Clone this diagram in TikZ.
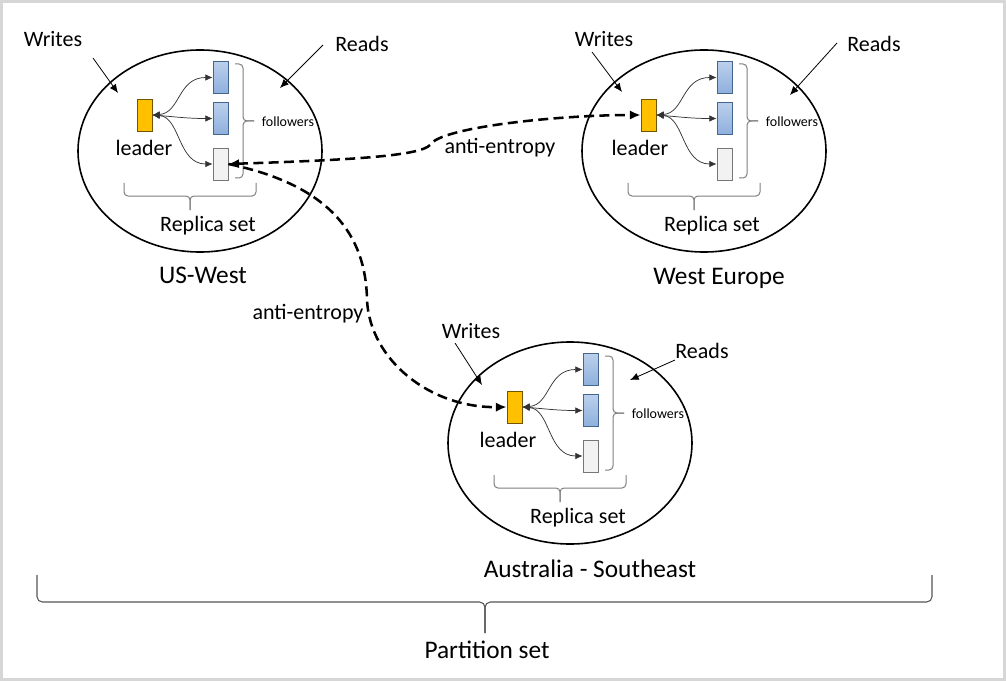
\documentclass[tikz,border=0pt]{standalone}
\usepackage{fontspec}
\setmainfont{Carlito}
\usetikzlibrary{shapes.geometric,arrows.meta}
\definecolor{framegray}{HTML}{D6D6D6}
\definecolor{leaderfill}{HTML}{FFC000}
\definecolor{leaderdraw}{HTML}{6F5500}
\definecolor{followtop}{HTML}{BBD0EC}
\definecolor{followbot}{HTML}{8EB0DD}
\definecolor{followdraw}{HTML}{45668C}
\definecolor{idlefill}{HTML}{F2F2F2}
\definecolor{idledraw}{HTML}{767676}
\definecolor{brkgray}{HTML}{7F7F7F}
\definecolor{pbrkgray}{HTML}{555555}
\definecolor{intgray}{HTML}{333333}

\newcommand\replicaset[4]{%
\begin{scope}[shift={(#2,#3)}]
\node[region] (#1E) at (200,151) {};
\node[leaderbox] (#1L) at (144.5,115) {};
\node[followbox] (#1A) at (220.5,77.5) {};
\node[followbox] (#1B) at (220.5,118.5) {};
\node[idlebox] (#1C) at (220.5,164) {};
\draw[intarrow] (#1L.east) .. controls +(28,-2) and +(-35,0) .. (#1A.west);
\draw[intarrow] (#1L.east) .. controls +(25,2) and +(-25,0) .. (#1B.west);
\draw[intarrow] (#1L.east) .. controls +(28,2) and +(-35,0) .. (#1C.west);
\node[lbl] (#1ldr) at (#4,148) {leader};
\node[small] (#1fol) at (288,122) {followers};
\node[lbl] (#1rep) at (208,226) {Replica set};
\draw[brk] (235,64) -- (243,64) -- (243,121) -- (254,121);
\draw[brk] (235,178) -- (243,178) -- (243,121) -- (254,121);
\draw[brk] (124,183) -- (124,196) -- (190,196) -- (190,210);
\draw[brk] (256,183) -- (256,196) -- (190,196) -- (190,210);
\end{scope}}

\begin{document}
\begin{tikzpicture}[x=0.75pt,y=-0.75pt,
  region/.style={ellipse, draw=black, line width=1.2pt, minimum width=183pt, minimum height=151.5pt, inner sep=0pt},
  leaderbox/.style={draw=leaderdraw, fill=leaderfill, line width=0.6pt, minimum width=11.25pt, minimum height=24pt, inner sep=0pt},
  followbox/.style={draw=followdraw, top color=followtop, bottom color=followbot, line width=0.6pt, minimum width=11.25pt, minimum height=24pt, inner sep=0pt},
  idlebox/.style={draw=idledraw, fill=idlefill, line width=0.6pt, minimum width=11.25pt, minimum height=24pt, inner sep=0pt},
  intarrow/.style={draw=intgray, line width=0.55pt, {Latex[length=5.5pt,width=5pt]}-{Latex[length=5.5pt,width=5pt]}},
  entropy/.style={line width=1.9pt, dash pattern=on 7.5pt off 4pt},
  pointer/.style={line width=0.6pt, -{Latex[length=6.5pt,width=5.5pt]}},
  brk/.style={draw=brkgray, line width=0.75pt, rounded corners=3pt},
  pbrk/.style={draw=pbrkgray, line width=0.8pt, rounded corners=4pt},
  lbl/.style={font=\fontsize{16.5}{19}\selectfont, inner sep=0pt},
  big/.style={font=\fontsize{19}{22}\selectfont, inner sep=0pt},
  small/.style={font=\fontsize{10.5}{12}\selectfont, inner sep=0pt}]
\useasboundingbox (0,0) rectangle (1006,681);
\fill[framegray] (0,0) rectangle (1006,681);
\fill[white] (3,3) rectangle (1003,678);

% replica sets
\replicaset{us}{0}{0}{144}
\replicaset{we}{504}{0}{136}
\replicaset{au}{370}{292}{138}

% region names
\node[big] (usname) at (203,275) {US-West};
\node[big] (wename) at (719,278) {West Europe};
\node[big] (auname) at (590,569) {Australia - Southeast};

% writes / reads
\node[lbl] (usW) at (53,39) {Writes};
\coordinate (usWs) at (93,58); \coordinate (usWe) at (118,93);
\draw[pointer] (usWs) -- (usWe);
\node[lbl] (usR) at (362,44) {Reads};
\coordinate (usRs) at (323,45); \coordinate (usRe) at (280,88);
\draw[pointer] (usRs) -- (usRe);

\node[lbl] (weW) at (604,39) {Writes};
\coordinate (weWs) at (592,52); \coordinate (weWe) at (622,92);
\draw[pointer] (weWs) -- (weWe);
\node[lbl] (weR) at (874,44) {Reads};
\coordinate (weRs) at (837,43); \coordinate (weRe) at (790,95);
\draw[pointer] (weRs) -- (weRe);

\node[lbl] (auW) at (471,331) {Writes};
\coordinate (auWs) at (455,343); \coordinate (auWe) at (482,385);
\draw[pointer] (auWs) -- (auWe);
\node[lbl] (auR) at (702,351) {Reads};
\coordinate (auRs) at (675,360); \coordinate (auRe) at (630,380);
\draw[pointer] (auRs) -- (auRe);

% anti-entropy
\draw[entropy, {Latex[length=8pt,width=7pt]}-{Latex[length=8pt,width=7pt]}]
  (usC.east) .. controls (350,160) and (420,156) .. (430,145)
  .. controls (440,127) and (560,115) .. (weL.west);
\draw[entropy, -{Latex[length=8pt,width=7pt]}]
  (usC.east) .. controls (330,185) and (366,235) .. (367,300)
  .. controls (370,360) and (430,408) .. (auL.west);
\node[lbl] (ae1) at (500,148) {anti-entropy};
\node[lbl] (ae2) at (308,314) {anti-entropy};

% partition brace
\draw[pbrk] (37,575) -- (37,602) -- (485,602) -- (485,633);
\draw[pbrk] (932,575) -- (932,602) -- (485,602) -- (485,633);
\node[big] (part) at (487,650) {Partition set};
\end{tikzpicture}
\end{document}
